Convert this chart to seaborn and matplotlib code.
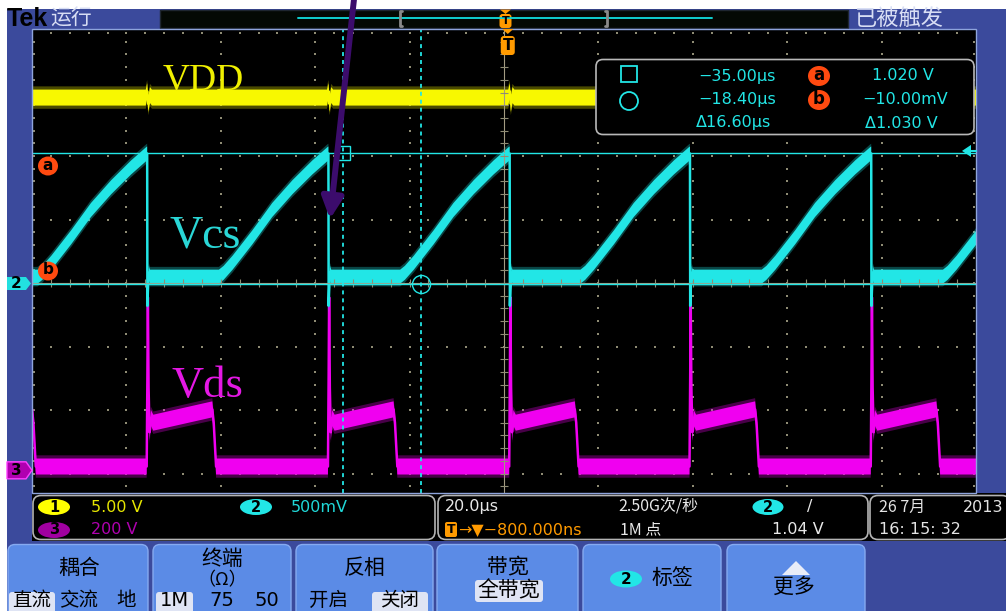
import numpy as np
import pandas as pd
import matplotlib
matplotlib.use("Agg")
import matplotlib.pyplot as plt
import seaborn as sns
from matplotlib.patches import FancyBboxPatch, Rectangle, Polygon, Ellipse

# ---------------- chart data ----------------
time_per_div_us = 20.0
trigger_delay_us = -0.8
vdd_volts_per_div = 5.0
vcs_volts_per_div = 0.5
vds_volts_per_div = 200.0
vdd_ground_div = 0.0
vcs_ground_div = 0.0
vds_ground_div = -2.95

# switching instants (Vcs falling edge / Vds rising edge), µs
switch_times_us = [-114.6, -76.4, -38.0, 0.4, 38.6, 77.0, 115.4]

# Vcs around one switching instant (µs relative, V)
vcs_cycle_rel_us = [-23.2, -22.2, -20.3, -16.1, -11.9, -7.6, -3.4, -0.2, 0.0,
                    0.05, 0.15, 0.35, 0.6]
vcs_cycle_v = [0.05, 0.08, 0.16, 0.36, 0.575, 0.755, 0.91, 1.015, 1.02,
               -0.18, -0.06, 0.08, 0.05]

# Vds around one switching instant (µs relative, V)
vds_cycle_rel_us = [-0.1, 0.05, 0.15, 0.3, 0.5, 0.8, 1.3, 13.8, 14.1, 14.6]
vds_cycle_v = [12, 300, 545, 260, 120, 165, 150, 192, 150, 12]

# VDD: flat level with a small glitch at every switching instant
vdd_level_v = 14.6
vdd_cycle_rel_us = [-0.3, 0.0, 0.25, 0.6, 1.0]
vdd_cycle_v = [14.6, 15.1, 14.1, 14.8, 14.6]

cursor_times_us = [-35.00, -18.40]
cursor_levels_v = [1.020, -0.010]
trigger_level_v = 1.04

# ---------------- geometry / style ----------------
W, H = 1006, 611
GL, GR, GT, GB = 32, 976, 29, 493
CY = 283.0
PXDIV = 63.5
BLUE = '#3b4a9c'
BTN = '#5b8be6'
CYAN = '#22e6e6'
MAG = '#f000f0'
YEL = '#f8f800'
ORANGE = '#ff9a00'
RED = '#ff4a10'
TAN = '#a39b82'
DOT = '#8f8c74'
CJK = ['Noto Sans CJK SC', 'DejaVu Sans']
NUM = ['DejaVu Sans', 'Noto Sans CJK SC']

sns.set_style("dark")
plt.rcParams['font.family'] = CJK
plt.rcParams['axes.unicode_minus'] = False

xmin = trigger_delay_us - 5 * time_per_div_us
xmax = trigger_delay_us + 5 * time_per_div_us
ymax = (CY - GT) / PXDIV
ymin = (CY - GB) / PXDIV
px_per_us = (GR - GL) / (10 * time_per_div_us)


def px_x(t):
    return GL + (t - xmin) * px_per_us


def px_y(d):
    return CY - d * PXDIV


def cycle_trace(switches, rel_t, rel_v):
    t = np.concatenate([s + np.asarray(rel_t, float) for s in switches])
    v = np.tile(np.asarray(rel_v, float), len(switches))
    return t, v


vcs_t, vcs_v = cycle_trace(switch_times_us, vcs_cycle_rel_us, vcs_cycle_v)
vds_t, vds_v = cycle_trace(switch_times_us, vds_cycle_rel_us, vds_cycle_v)
vdd_t, vdd_v = cycle_trace(switch_times_us, vdd_cycle_rel_us, vdd_cycle_v)
vdd_t = np.concatenate([[xmin - 20], vdd_t, [xmax + 20]])
vdd_v = np.concatenate([[vdd_level_v], vdd_v, [vdd_level_v]])

traces = pd.DataFrame({
    't': np.concatenate([vds_t, vcs_t, vdd_t]),
    'div': np.concatenate([vds_v / vds_volts_per_div + vds_ground_div,
                           vcs_v / vcs_volts_per_div + vcs_ground_div,
                           vdd_v / vdd_volts_per_div + vdd_ground_div]),
    'ch': ['Vds'] * len(vds_t) + ['Vcs'] * len(vcs_t) + ['VDD'] * len(vdd_t),
})

fig = plt.figure(figsize=(W / 100, H / 100), dpi=100, facecolor='white')

# ---------------- background / frame ----------------
bg = fig.add_axes([0, 0, 1, 1], zorder=1)
bg.set_xlim(0, W); bg.set_ylim(H, 0); bg.axis('off')
bg.add_patch(Rectangle((7, 9), W - 7, H - 9, fc=BLUE, ec='none'))


def txt(ax, x, y, s, size=11.5, color='black', ha='left', va='center', family=CJK, weight='normal', **kw):
    ax.text(x, y, s, fontsize=size, color=color, ha=ha, va=va, family=family, weight=weight, **kw)


def badge(ax, cx, cy, w, h, fc, label, tc='black', fs=10.5):
    ax.add_patch(Ellipse((cx, cy), w, h, fc=fc, ec='none'))
    txt(ax, cx, cy, label, size=fs, color=tc, ha='center', family=NUM, weight='bold')


# top bar
txt(bg, 7, 19, 'Tek', size=18, color='black', family=['Liberation Sans'], weight='bold')
txt(bg, 50, 19, '运行', size=15, color='#d8def4')
txt(bg, 855, 19, '已被触发', size=16, color='#d8def4')
bg.add_patch(Rectangle((160, 9.5), 688, 18, fc='#040904', ec='#1e2630', lw=1))
bg.plot([298, 712], [18, 18], color='#10d0d0', lw=1.4)
bg.plot([402, 400, 400, 402], [11, 11, 26, 26], color='#8a8a8a', lw=2)
bg.plot([605, 607, 607, 605], [11, 11, 26, 26], color='#8a8a8a', lw=2)
bg.add_patch(Polygon([(500, 9.5), (511, 9.5), (505.5, 14)], fc=ORANGE, ec='none'))
bg.add_patch(FancyBboxPatch((499.5, 14), 12, 14, boxstyle='round,pad=0,rounding_size=3', fc=ORANGE, ec='none'))
txt(bg, 505.5, 21.5, 'T', size=8, color='black', ha='center', family=NUM, weight='bold')

# bottom readout strip
bg.add_patch(Rectangle((GL, GB), W - GL, 48, fc='black', ec='none'))
for x0, w in [(33, 402), (438, 430), (870, 140)]:
    bg.add_patch(FancyBboxPatch((x0, 495.5), w, 44, boxstyle='round,pad=0,rounding_size=8',
                                fc='black', ec='#b4b4b4', lw=1.2))

# ---------------- scope graticule & traces ----------------
ax = fig.add_axes([GL / W, (H - GB) / H, (GR - GL) / W, (GB - GT) / H], zorder=2)
ax.set_facecolor('black')
ax.set_xlim(xmin, xmax); ax.set_ylim(ymin, ymax)
ax.set_xticks([]); ax.set_yticks([])
for sp in ax.spines.values():
    sp.set_visible(False)

minor_t = xmin + (time_per_div_us / 5) * np.arange(1, 50)
minor_y = np.round(np.arange(-16, 20) * 0.2, 3)
major_t = xmin + time_per_div_us * np.arange(1, 10)
center_t = trigger_delay_us
for tt in major_t:
    if abs(tt - center_t) > 1e-6:
        ax.scatter(np.full(len(minor_y), tt), minor_y, s=1.8, marker='s', color=DOT, lw=0, zorder=1)
for yy in [-3, -2, -1, 1, 2, 3]:
    ax.scatter(minor_t, np.full(len(minor_t), yy), s=1.8, marker='s', color=DOT, lw=0, zorder=1)
# edge ticks
ax.scatter(np.full(len(minor_y), xmin + 0.4), minor_y, s=1.8, marker='s', color=DOT, lw=0, zorder=1)
ax.scatter(np.full(len(minor_y), xmax - 0.4), minor_y, s=1.8, marker='s', color=DOT, lw=0, zorder=1)
ax.scatter(minor_t, np.full(len(minor_t), ymax - 4 / PXDIV), s=1.8, marker='s', color=DOT, lw=0, zorder=1)

palette = {'Vds': (MAG, 8.0), 'Vcs': (CYAN, 7.0), 'VDD': (YEL, 8.0)}
for i, ch in enumerate(['Vds', 'Vcs', 'VDD']):
    d = traces[traces['ch'] == ch]
    core, half = palette[ch]
    h = half / PXDIV
    z = 3 + i
    sns.lineplot(data=d, x='t', y='div', ax=ax, color=core, lw=1.8, zorder=z,
                 sort=False, estimator=None, legend=False)
    ax.fill_between(d['t'], d['div'] - 1.4 * h, d['div'] + 1.4 * h, color=core, alpha=0.3, lw=0, zorder=z + 0.1)
    ax.fill_between(d['t'], d['div'] - h, d['div'] + h, color=core, lw=0, zorder=z + 0.2)
ax.set_xlabel(''); ax.set_ylabel('')

# center cross (drawn over traces)
ax.axvline(center_t, color=TAN, lw=0.8, zorder=6)
ax.axhline(0, color=TAN, lw=0.8, zorder=6)
ax.hlines(minor_y, center_t - 0.85, center_t + 0.85, color=DOT, lw=0.8, zorder=6)
ax.vlines(minor_t, -0.065, 0.065, color=DOT, lw=0.8, zorder=6)

# cursors
a_div = cursor_levels_v[0] / vcs_volts_per_div + vcs_ground_div
b_div = cursor_levels_v[1] / vcs_volts_per_div + vcs_ground_div
ax.axhline(a_div, color=CYAN, lw=1.0, zorder=7)
ax.axhline(b_div, color=CYAN, lw=1.0, zorder=7)
for ct in cursor_times_us:
    ax.axvline(ct, color=CYAN, lw=1.3, dashes=(2.2, 2.2), zorder=7)
ax.plot([cursor_times_us[0]], [a_div], marker='s', ms=9.5, mfc='none', mec=CYAN, mew=1.0, zorder=8)
ax.plot([cursor_times_us[1]], [b_div], marker='o', ms=13, mfc='none', mec=CYAN, mew=1.0, zorder=8)

# ---------------- overlay ----------------
ov = fig.add_axes([0, 0, 1, 1], zorder=3)
ov.set_xlim(0, W); ov.set_ylim(H, 0); ov.axis('off'); ov.patch.set_alpha(0)
ov.add_patch(Rectangle((GL, GT), GR - GL, GB - GT, fc='none', ec='#8ea4dc', lw=1))

# labels on the traces
txt(ov, 203, 90, 'VDD', size=27, color='#f0f000', ha='center', va='baseline', family=['Liberation Serif'])
txt(ov, 205, 247, 'Vcs', size=33, color='#2ad6d6', ha='center', va='baseline', family=['Liberation Serif'])
txt(ov, 207, 397, 'Vds', size=32, color='#e418e4', ha='center', va='baseline', family=['Liberation Serif'])

# channel ground markers
ov.add_patch(Polygon([(7, 277), (26, 277), (31, 283.5), (26, 290), (7, 290)], fc='#22e0e0', ec='none'))
txt(ov, 16, 283.5, '2', size=11, color='black', ha='center', family=NUM, weight='bold')
g3 = px_y(vds_ground_div)
ov.add_patch(Polygon([(7, g3 - 8.5), (26, g3 - 8.5), (32, g3), (26, g3 + 8.5), (7, g3 + 8.5)],
                     fc='#b000b0', ec='#ff40ff', lw=1))
txt(ov, 16, g3, '3', size=11, color='black', ha='center', family=NUM, weight='bold')

# cursor a / b markers on the left
for yy, lab in [(166, 'a'), (271, 'b')]:
    ov.add_patch(Ellipse((48, yy), 20, 19, fc=RED, ec='none'))
    txt(ov, 48, yy - 1, lab, size=11, color='black', ha='center', family=NUM, weight='bold')

# trigger level marker on the right
ty = px_y(trigger_level_v / vcs_volts_per_div + vcs_ground_div)
ov.add_patch(Polygon([(962, ty), (971, ty - 6), (971, ty + 6)], fc=CYAN, ec='none'))
ov.plot([970, 976], [ty, ty], color=CYAN, lw=1.5)

# trigger position marker
tx = px_x(0.0)
ov.add_patch(Polygon([(tx - 5.5, 29), (tx + 5.5, 29), (tx, 34)], fc=ORANGE, ec='none'))
ov.add_patch(FancyBboxPatch((tx - 7, 36), 14, 19, boxstyle='round,pad=0,rounding_size=3', fc=ORANGE, ec='none'))
txt(ov, tx, 45.5, 'T', size=11, color='black', ha='center', family=NUM, weight='bold')

# measurement box
ov.add_patch(FancyBboxPatch((596, 59.5), 378, 75, boxstyle='round,pad=0,rounding_size=7',
                            fc='black', ec='#b8b8b8', lw=1.2))
ov.add_patch(Rectangle((621, 66), 16, 16, fc='none', ec=CYAN, lw=1.3))
ov.add_patch(Ellipse((629, 101), 18, 18, fc='none', ec=CYAN, lw=1.3))
dt = cursor_times_us[1] - cursor_times_us[0]
dv = cursor_levels_v[0] - cursor_levels_v[1]
mfmt = lambda v: f"{v:.2f}".replace('-', '−')
txt(ov, 698, 76, mfmt(cursor_times_us[0]) + 'µs', color=CYAN, family=NUM)
txt(ov, 698, 99.5, mfmt(cursor_times_us[1]) + 'µs', color=CYAN, family=NUM)
txt(ov, 696, 123, f"Δ{dt:.2f}µs", color=CYAN, family=NUM)
for yy, lab in [(76, 'a'), (100, 'b')]:
    ov.add_patch(Ellipse((819, yy), 22, 20, fc=RED, ec='none'))
    txt(ov, 819, yy - 1, lab, size=12, color='black', ha='center', family=NUM, weight='bold')
txt(ov, 872, 76, f"{cursor_levels_v[0]:.3f} V", color=CYAN, family=NUM)
txt(ov, 862, 99.5, mfmt(cursor_levels_v[1] * 1000) + 'mV', color=CYAN, family=NUM)
txt(ov, 865, 123, f"Δ{dv:.3f} V", color=CYAN, family=NUM)

# purple annotation arrow
ov.annotate('', xy=(330, 219), xytext=(355, -10),
            arrowprops=dict(arrowstyle='-|>,head_length=0.4,head_width=0.2', lw=4.3,
                            color='#3c0c6c', mutation_scale=32, shrinkA=0, shrinkB=0))

# ---------------- bottom readouts ----------------
badge(bg, 54, 507, 32, 16, '#ffff00', '1')
txt(bg, 91, 507, f"{vdd_volts_per_div:.2f} V", color='#e6e600', family=NUM)
badge(bg, 256, 507, 32, 16, CYAN, '2')
txt(bg, 291, 507, f"{vcs_volts_per_div * 1000:.0f}mV", color='#20d8d8', family=NUM)
badge(bg, 54, 530, 32, 16, '#a000a0', '3')
txt(bg, 91, 530, f"{vds_volts_per_div:.0f} V", color='#b000b0', family=NUM)

txt(bg, 445, 507, f"{time_per_div_us:.1f}µs", color='#e8e8e8', family=NUM)
txt(bg, 618, 507, '2.50G次/秒', color='#e8e8e8')
badge(bg, 768, 507, 31, 16, CYAN, '2')
txt(bg, 810, 507, '/', color='#e8e8e8', family=NUM, ha='center')
bg.add_patch(FancyBboxPatch((445, 522), 12, 15, boxstyle='round,pad=0,rounding_size=2', fc=ORANGE, ec='none'))
txt(bg, 451, 529.5, 'T', size=9, color='black', ha='center', family=NUM, weight='bold')
txt(bg, 458, 530, '→▼' + f"{trigger_delay_us * 1000:.3f}ns".replace('-', '−'), color=ORANGE, family=NUM)
txt(bg, 620, 530, '1M 点', color='#e8e8e8')
txt(bg, 772, 530, f"{trigger_level_v:.2f} V", color='#e8e8e8', family=NUM)

txt(bg, 879, 507, '26 7月', color='#e4e4e4')
txt(bg, 963, 507, '2013', color='#e4e4e4', family=NUM)
txt(bg, 879, 530, '16: 15: 32', color='#e4e4e4', family=NUM)

# ---------------- soft-key buttons ----------------
for x0, x1 in [(8, 148), (153, 291), (296, 433), (437, 578), (583, 721), (727, 865)]:
    bg.add_patch(FancyBboxPatch((x0, 544.5), x1 - x0, 90, boxstyle='round,pad=0,rounding_size=7',
                                fc=BTN, ec='#86aaf0', lw=1))


def hl(x0, y0, w, h):
    bg.add_patch(FancyBboxPatch((x0, y0), w, h, boxstyle='round,pad=0,rounding_size=3',
                                fc='#dfe4f4', ec='none'))


hl(9, 592, 46, 30); hl(156, 592, 37, 30); hl(372, 592, 56, 30); hl(475, 580, 68, 22)
txt(bg, 79, 568, '耦合', size=15, ha='center')
txt(bg, 32, 600.5, '直流', size=14, ha='center')
txt(bg, 79, 600.5, '交流', size=14, ha='center')
txt(bg, 126, 600.5, '地', size=14, ha='center')
txt(bg, 222, 559, '终端', size=15, ha='center')
txt(bg, 222, 580, '（Ω）', size=13, ha='center')
txt(bg, 174, 601, '1M', size=14, ha='center', family=NUM)
txt(bg, 222, 601, '75', size=14, ha='center', family=NUM)
txt(bg, 267, 601, '50', size=14, ha='center', family=NUM)
txt(bg, 365, 568, '反相', size=15, ha='center')
txt(bg, 329, 600.5, '开启', size=14, ha='center')
txt(bg, 400, 600.5, '关闭', size=14, ha='center')
txt(bg, 508, 566, '带宽', size=15, ha='center')
txt(bg, 509, 590, '全带宽', size=15, ha='center')
badge(bg, 626, 579, 32, 17, CYAN, '2', fs=11)
txt(bg, 672, 578, '标签', size=15, ha='center')
bg.add_patch(Polygon([(782, 575), (810, 575), (796, 561)], fc='#e8ecf8', ec='none'))
txt(bg, 794, 587, '更多', size=15, ha='center')

fig.savefig('out.png', dpi=100, facecolor='white')
